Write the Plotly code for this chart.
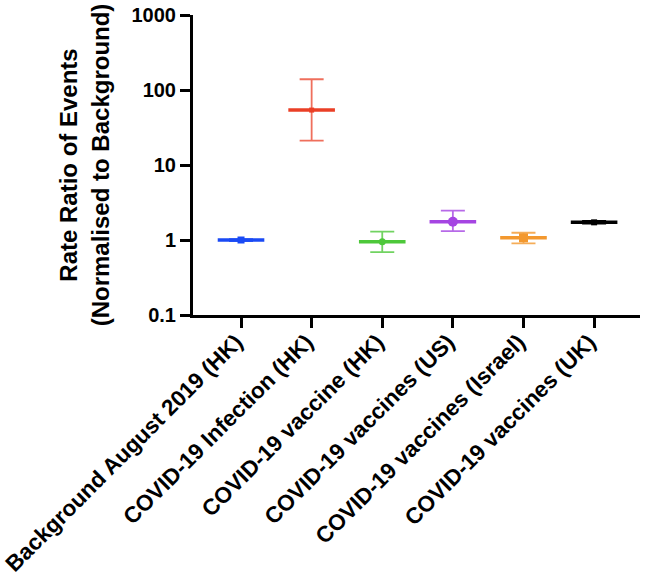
import plotly.graph_objects as go

categories = [
    "Background August 2019 (HK)",
    "COVID-19 Infection (HK)",
    "COVID-19 vaccine (HK)",
    "COVID-19 vaccines (US)",
    "COVID-19 vaccines (Israel)",
    "COVID-19 vaccines (UK)",
]
means = [1.0, 54.0, 0.95, 1.75, 1.07, 1.72]
upper = [1.03, 139.0, 1.29, 2.46, 1.25, 1.80]
lower = [0.97, 21.1, 0.69, 1.31, 0.90, 1.65]
colors = ["#1a4af5", "#ea3f26", "#4dc83a", "#a545e2", "#f3982e", "#000000"]
err_colors = ["rgba(26,74,245,0.85)", "rgba(234,63,38,0.75)", "rgba(77,200,58,0.8)",
              "rgba(165,69,226,0.8)", "rgba(243,152,46,0.8)", "rgba(0,0,0,1)"]
symbols = ["square", "square", "circle", "circle", "square", "square"]
sizes = [7, 5, 7, 10, 9, 6]
tick_vals_y = [0.1, 1, 10, 100, 1000]
tick_text_y = ["0.1", "1", "10", "100", "1000"]

fig = go.Figure()
for i, cat in enumerate(categories):
    fig.add_trace(go.Scatter(
        x=[i], y=[means[i]], mode="markers",
        marker=dict(color=colors[i], symbol=symbols[i], size=sizes[i]),
        error_y=dict(type="data", symmetric=False,
                     array=[upper[i] - means[i]], arrayminus=[means[i] - lower[i]],
                     color=err_colors[i], thickness=1.8, width=12),
        error_x=dict(type="constant", value=0.33, color=colors[i], thickness=3.5, width=0),
        showlegend=False, name=cat,
    ))

fig.update_layout(
    width=645, height=578,
    margin=dict(l=193, r=5, t=15, b=263),
    plot_bgcolor="white", paper_bgcolor="white",
    font=dict(family="Liberation Sans, Arial", color="black"),
)
fig.update_xaxes(
    automargin=False, ticklabeloverflow="allow",
    range=[-0.68, 5.65], tickvals=list(range(len(categories))), ticktext=categories,
    tickangle=-45, tickfont=dict(size=22.5, family="Liberation Sans, Arial", weight="bold"),
    ticklabelstandoff=-8, ticklabelshift=-5,
    showline=True, linecolor="black", linewidth=3, ticks="outside", ticklen=10,
    tickwidth=3, tickcolor="black", showgrid=False, zeroline=False,
)
fig.update_yaxes(
    automargin=False, ticklabeloverflow="allow",
    type="log", range=[-1, 3], tickvals=tick_vals_y, ticktext=tick_text_y,
    tickfont=dict(size=20, family="Liberation Sans, Arial", weight="bold"),
    showline=True, linecolor="black", linewidth=3, ticks="outside", ticklen=10,
    tickwidth=3, tickcolor="black", showgrid=False, zeroline=False,
    title=dict(text="Rate Ratio of Events<br>(Normalised to Background)",
               font=dict(size=24, family="Liberation Sans, Arial", weight="bold"),
               standoff=16),
)
fig.write_html("out.html", config={"displayModeBar": False},
               post_script="document.body.style.margin='0';document.body.style.overflow='hidden';")
